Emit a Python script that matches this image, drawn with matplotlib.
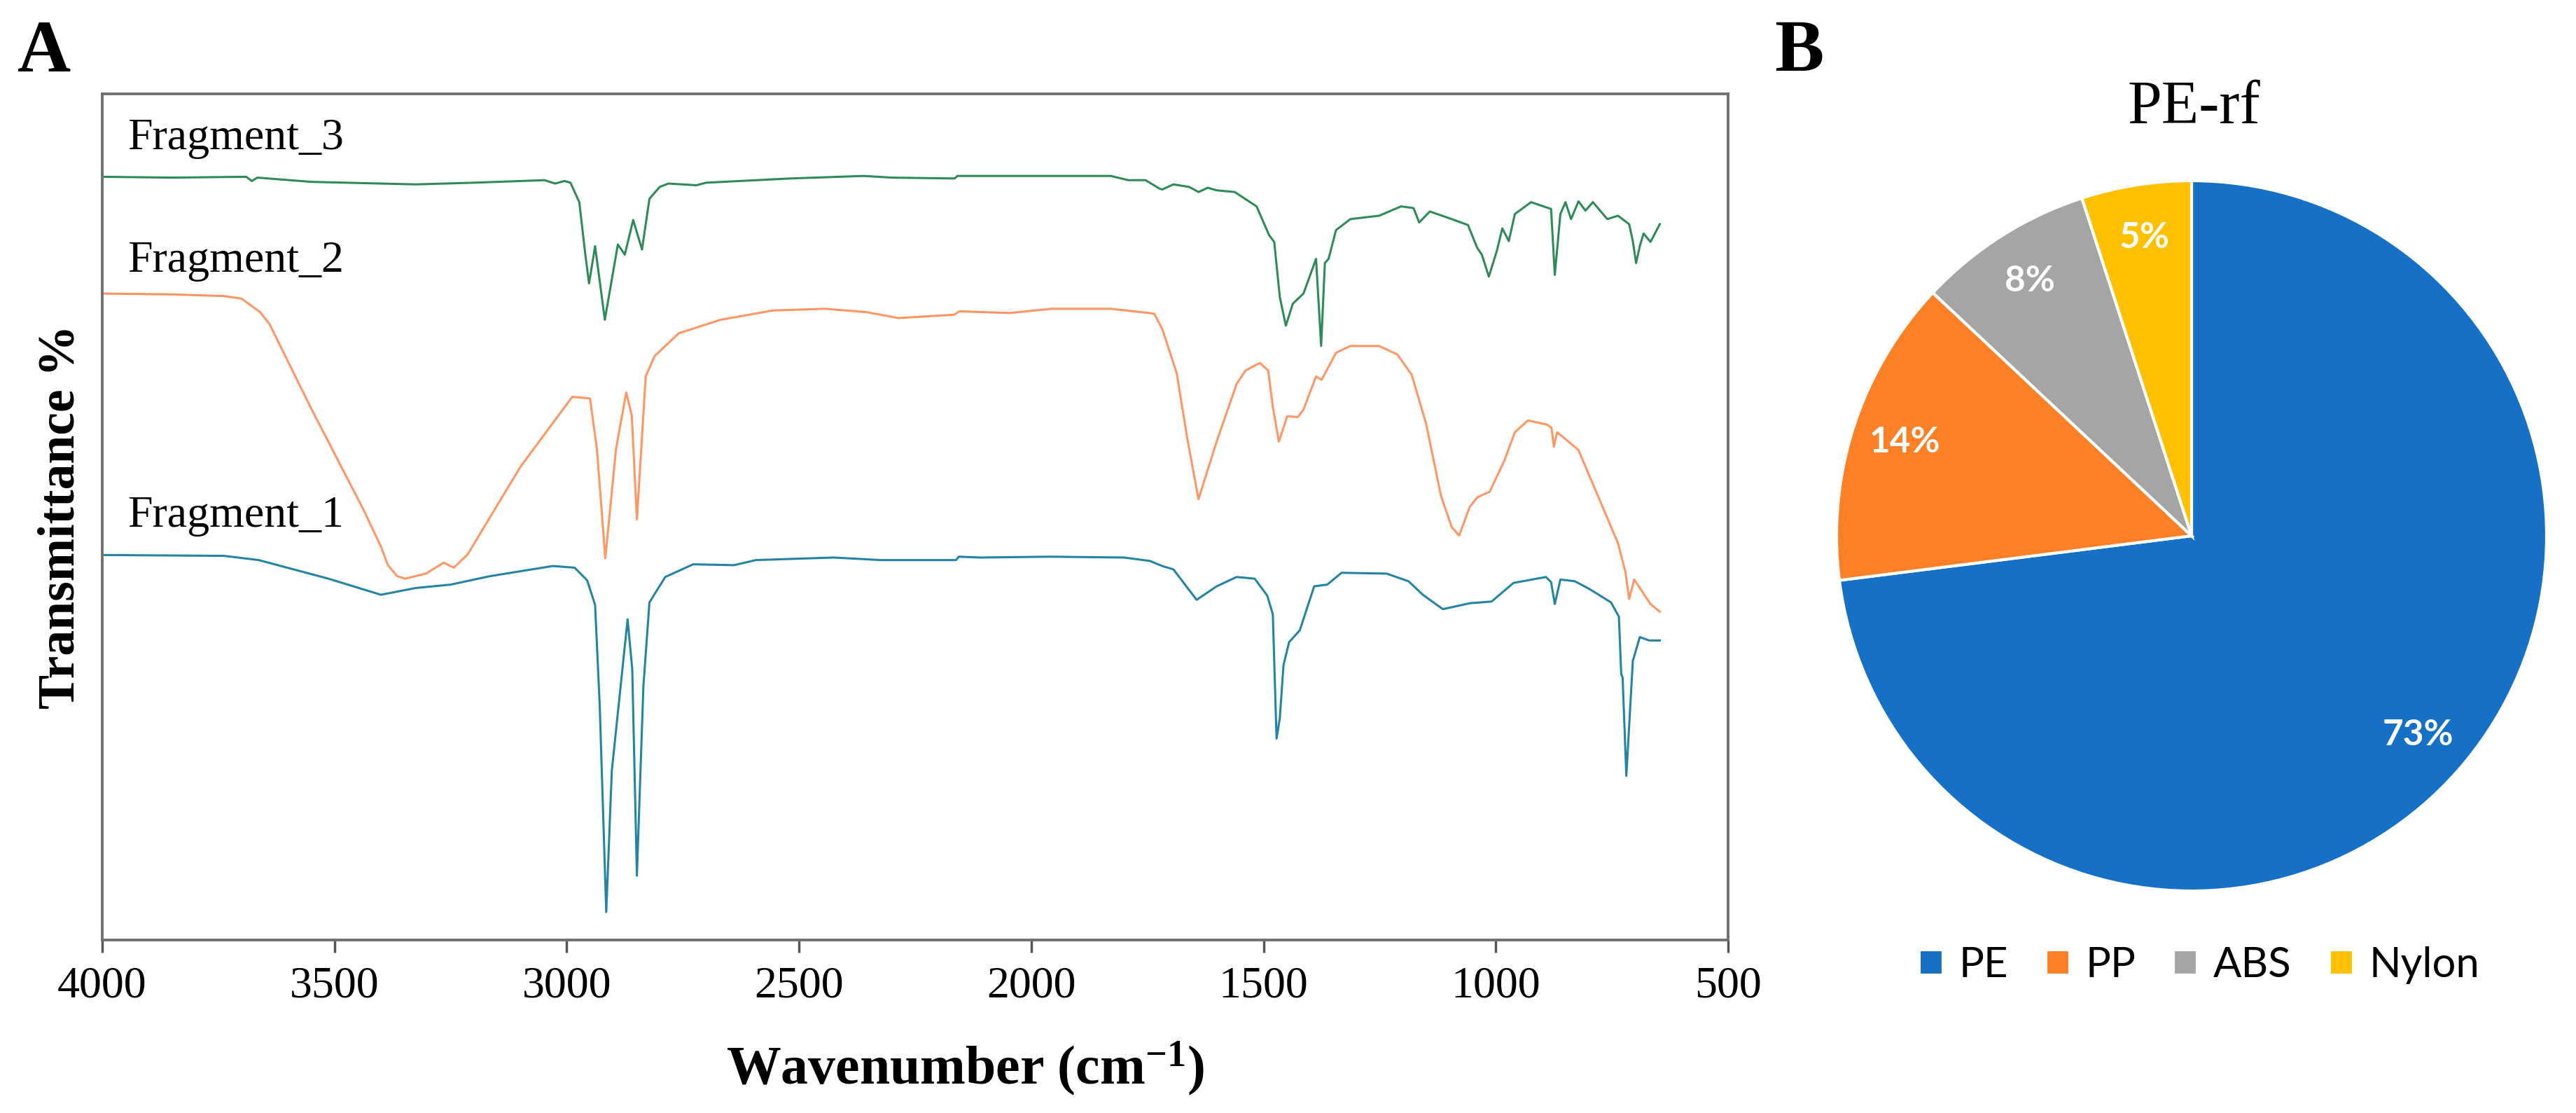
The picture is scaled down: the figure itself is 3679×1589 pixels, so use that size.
import matplotlib
matplotlib.use("Agg")
import matplotlib.pyplot as plt
import numpy as np

# ---------------- data ----------------
# Fragment_3 (green)
frag3_wn = [4000, 3850, 3690, 3678, 3666, 3550, 3325, 3200, 3048, 3025, 3005, 2992, 2973, 2960, 2952,
            2939, 2918, 2890, 2875, 2857, 2838, 2822, 2800, 2781, 2721, 2700, 2519, 2361, 2300, 2165,
            2159, 1960, 1829, 1791, 1754, 1724, 1718, 1694, 1660, 1640, 1620, 1601, 1562, 1515, 1488,
            1477, 1465, 1452, 1437, 1414, 1387, 1376, 1368, 1360, 1344, 1313, 1251, 1204, 1177, 1165,
            1142, 1095, 1060, 1040, 1030, 1015, 998, 986, 972, 959, 924, 892, 881, 873, 861, 850, 838,
            822, 807, 791, 760, 737, 713, 705, 698, 690, 682, 667, 647]
frag3_t = [90.2, 90.1, 90.2, 89.7, 90.1, 89.6, 89.3, 89.5, 89.8, 89.4, 89.7, 89.5, 87.2, 81.0, 77.6,
           82.0, 73.3, 82.2, 81.0, 85.1, 81.6, 87.6, 89.0, 89.4, 89.2, 89.5, 90.0, 90.3, 90.1, 90.0,
           90.3, 90.3, 90.3, 89.8, 89.8, 88.8, 88.7, 89.3, 89.0, 88.4, 88.9, 88.6, 88.4, 86.7, 83.3,
           82.5, 76.0, 72.6, 75.2, 76.4, 80.5, 70.2, 80.0, 80.5, 83.9, 85.2, 85.6, 86.7, 86.5, 84.8,
           86.1, 85.2, 84.5, 81.8, 81.0, 78.4, 81.4, 84.1, 82.6, 85.8, 87.2, 86.6, 86.4, 78.6, 85.8, 87.2, 85.2,
           87.3, 86.2, 87.2, 85.2, 85.6, 84.6, 82.6, 80.0, 82.0, 83.5, 82.5, 84.6]

# Fragment_2 (orange)
frag2_wn = [4000, 3850, 3738, 3700, 3685, 3660, 3640, 3550, 3438, 3400, 3385, 3365, 3348, 3303, 3265,
            3243, 3213, 3100, 2988, 2950, 2935, 2917, 2894, 2872, 2860, 2849, 2830, 2811, 2759, 2669,
            2556, 2444, 2354, 2286, 2166, 2155, 2046, 1956, 1829, 1746, 1735, 1718, 1687, 1663, 1640,
            1601, 1558, 1539, 1508, 1490, 1480, 1467, 1449, 1426, 1414, 1387, 1375, 1344, 1313, 1251,
            1212, 1181, 1150, 1118, 1095, 1079, 1056, 1040, 1013, 982, 959, 931, 889, 880, 875, 868,
            861, 822, 795, 737, 721, 713, 702, 667, 647]
frag2_t = [76.4, 76.3, 76.1, 75.8, 75.2, 74.2, 72.8, 62.8, 50.9, 46.5, 44.3, 43.0, 42.7, 43.3, 44.6,
           44.0, 45.6, 55.9, 64.2, 64.0, 58.0, 45.1, 58.0, 64.7, 62.0, 49.7, 66.6, 69.0, 71.7, 73.3,
           74.4, 74.6, 74.2, 73.5, 73.9, 74.3, 74.1, 74.6, 74.6, 74.1, 74.0, 72.2, 67.0, 58.9, 52.1,
           58.9, 65.7, 67.3, 68.2, 67.3, 63.0, 58.9, 61.9, 61.8, 62.7, 66.6, 66.2, 69.4, 70.2, 70.2,
           69.2, 66.8, 61.0, 52.5, 48.8, 47.8, 51.2, 52.3, 53.0, 56.6, 60.0, 61.4, 60.9, 60.5, 58.3, 60.0,
           59.7, 57.9, 54.4, 46.9, 43.5, 40.3, 42.6, 39.7, 38.8]

# Fragment_1 (blue)
frag1_wn = [4000, 3738, 3663, 3513, 3400, 3325, 3250, 3165, 3030, 2983, 2956, 2939, 2929, 2915, 2903,
            2869, 2859, 2849, 2835, 2822, 2788, 2728, 2640, 2593, 2425, 2324, 2162, 2156, 2110, 1960,
            1800, 1745, 1718, 1694, 1644, 1601, 1558, 1519, 1492, 1480, 1472, 1465, 1457, 1445, 1422,
            1391, 1363, 1332, 1235, 1188, 1157, 1114, 1056, 1009, 962, 892, 881, 873, 861, 830, 799,
            752, 735, 730, 727, 719, 705, 690, 670, 647]
frag1_t = [45.5, 45.4, 44.9, 42.7, 40.8, 41.6, 42.0, 43.0, 44.2, 44.0, 42.5, 39.6, 27.7, 3.3, 20.0,
           37.9, 32.0, 7.6, 30.0, 39.9, 42.9, 44.4, 44.3, 44.9, 45.2, 44.9, 44.9, 45.3, 45.2, 45.3,
           45.2, 44.8, 44.2, 43.8, 40.2, 41.8, 42.9, 42.7, 40.7, 38.5, 23.8, 26.2, 32.5, 35.2, 36.6,
           41.8, 42.0, 43.4, 43.3, 42.4, 40.8, 39.1, 39.8, 40.0, 42.2, 42.9, 42.3, 39.7, 42.6, 42.4, 41.5,
           39.9, 38.2, 31.4, 31.0, 19.4, 33.0, 35.8, 35.4, 35.4]

series_names = ["Fragment_1", "Fragment_2", "Fragment_3"]
series_label_y = [48.8, 79.0, 93.5]
xticks_vals = [4000, 3500, 3000, 2500, 2000, 1500, 1000, 500]

pie_labels = ["PE", "PP", "ABS", "Nylon"]
pie_values = [73, 14, 8, 5]
pie_colors = ["#1570C6", "#FD7F26", "#A5A5A5", "#FFC000"]

# ---------------- style ----------------
serif = "Liberation Serif"
sans = "Lato"
plt.rcParams["font.family"] = [serif, "DejaVu Serif"]
plt.rcParams["mathtext.fontset"] = "custom"
plt.rcParams["mathtext.rm"] = "Liberation Serif:bold"
plt.rcParams["mathtext.bf"] = "Liberation Serif:bold"
plt.rcParams["mathtext.it"] = "Liberation Serif:bold"

# ---------------- figure ----------------
W, H = 3679, 1589
fig = plt.figure(figsize=(W / 100, H / 100), dpi=100)

# ---- Panel A ----
axA = fig.add_axes([146 / W, 1 - 1342 / H, 2322 / W, 1208 / H])
line_colors = ["#2484A4", "#FF9664", "#2E8B57"]
for wn, t, c in [(frag1_wn, frag1_t, line_colors[0]),
                 (frag2_wn, frag2_t, line_colors[1]),
                 (frag3_wn, frag3_t, line_colors[2])]:
    axA.plot(wn, t, color=c, lw=2.2)

for name, yv in zip(series_names, series_label_y):
    axA.text(3946, yv, name, family=serif, fontsize=46, ha="left", va="baseline")

axA.set_xlim(4000, 500)
axA.set_ylim(0, 100)
axA.set_xticks(xticks_vals)
axA.set_xticklabels([str(v) for v in xticks_vals])
axA.set_yticks([])
axA.tick_params(axis="x", direction="out", length=13, width=2.5, color="#555555", pad=14,
                labelsize=46, labelfontfamily=serif)
for sp in axA.spines.values():
    sp.set_color("#707070")
    sp.set_linewidth(2.8)

axA.set_xlabel(r"Wavenumber (cm$^{-1}$)", family=serif, fontweight="bold", fontsize=56, va="center")
axA.xaxis.set_label_coords(0.531, -0.1515)
axA.set_ylabel("Transmittance %", family=serif, fontweight="bold", fontsize=53, va="center")
axA.yaxis.set_label_coords(-0.0254, 0.5)

fig.text(25 / W, 1 - 102 / H, "A", family=serif, fontweight="bold", fontsize=76, ha="left", va="baseline")
fig.text(2534 / W, 1 - 101 / H, "B", family=serif, fontweight="bold", fontsize=76, ha="left", va="baseline")

# ---- Panel B ----
axB = fig.add_axes([2623 / W, 1 - 1272 / H, 1014 / W, 1014 / H])
wedges, texts, autotexts = axB.pie(
    pie_values, colors=pie_colors, startangle=90, counterclock=False,
    autopct="%1.0f%%", pctdistance=0.85,
    wedgeprops=dict(edgecolor="white", linewidth=3),
    textprops=dict(color="white", family=sans, fontweight="bold", fontsize=37))
axB.set_xlim(-1, 1)
axB.set_ylim(-1, 1)
axB.set_aspect("equal")
for w in wedges:
    w.set_clip_on(False)

fig.text(3133 / W, 1 - 155 / H, "PE-rf", family=serif, fontsize=63, ha="center", va="center")

fig.legend(wedges, pie_labels, loc="center", bbox_to_anchor=(3141 / W, 1 - 1378 / H),
           ncol=4, frameon=False, handlelength=0.57, handleheight=0.57, handletextpad=0.38,
           columnspacing=0.9, prop=dict(family=sans, size=43))

fig.savefig("out.png", dpi=100)
